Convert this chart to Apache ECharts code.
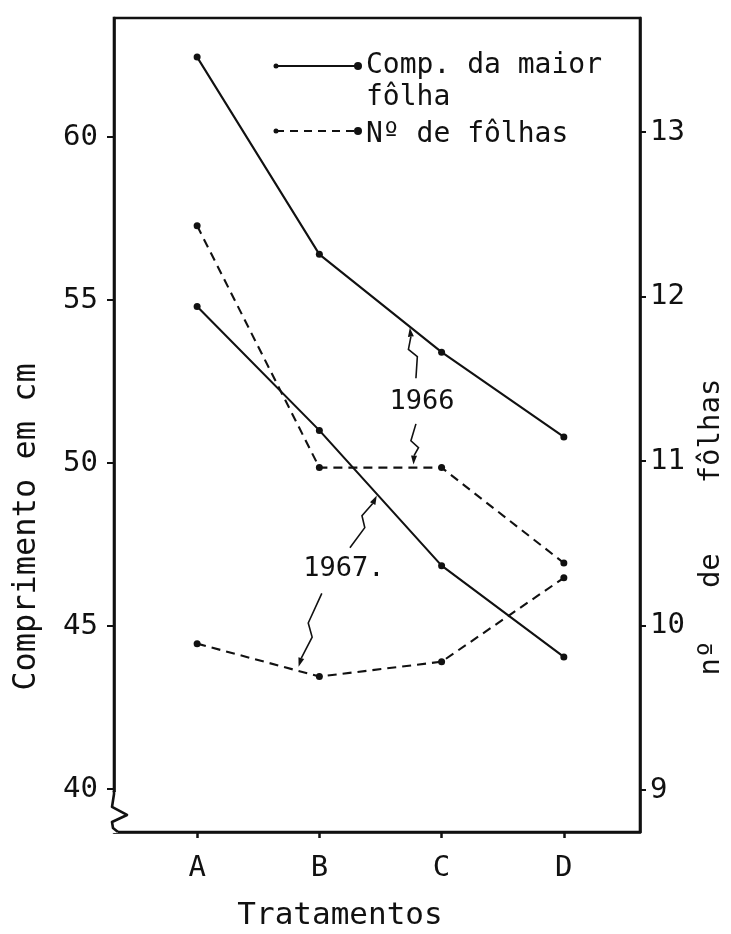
<!DOCTYPE html>
<html>
<head>
<meta charset="utf-8">
<script src="https://cdn.jsdelivr.net/npm/echarts@6/dist/echarts.min.js"></script>
<style>
  html, body { margin: 0; padding: 0; background: #fff; }
  #chart { width: 731px; height: 934px; }
</style>
</head>
<body>
<div id="chart"></div>
<script>
// tratamentos
const categories = ['A', 'B', 'C', 'D']
// comprimento da maior fôlha (cm), eixo esquerdo
const comp1966 = [62.45, 56.4, 53.4, 50.8]
const comp1967 = [54.8, 51.0, 46.85, 44.05]
// nº de fôlhas, eixo direito
const folhas1966 = [12.43, 10.96, 10.96, 10.38]
const folhas1967 = [9.89, 9.69, 9.78, 10.29]
// tick labels
const leftTicks = [40, 45, 50, 55, 60]
const rightTicks = [9, 10, 11, 12, 13]

const INK = '#111'
const MONO = '"DejaVu Sans Mono", monospace'

const chart = echarts.init(document.getElementById('chart'), null, { renderer: 'canvas' })

const pts = arr => arr.map((v, i) => [i, v])

function lineSeries(name, data, yIdx, dashed) {
  return {
    name: name,
    type: 'line',
    yAxisIndex: yIdx,
    data: pts(data),
    symbol: 'circle',
    symbolSize: 7,
    itemStyle: { color: INK },
    lineStyle: { color: INK, width: 2.1, type: dashed ? [9, 6] : 'solid' },
    animation: false,
    z: 3
  }
}

chart.setOption({
  backgroundColor: '#fff',
  animation: false,
  grid: {
    left: 114, right: 91, top: 18, bottom: 102,
    show: true, borderColor: INK, borderWidth: 2.6
  },
  xAxis: {
    type: 'value',
    min: -0.68,
    max: 3.623,
    splitLine: { show: false },
    axisLine: { onZero: false, lineStyle: { color: INK, width: 2.6 } },
    axisTick: { customValues: [0, 1, 2, 3], length: 6, lineStyle: { color: INK, width: 2.5 } },
    axisLabel: {
      customValues: [0, 1, 2, 3],
      formatter: v => categories[Math.round(v)],
      color: INK, fontFamily: MONO, fontSize: 29, margin: 22
    }
  },
  yAxis: [{
    type: 'value',
    position: 'left',
    min: 38.68,
    max: 63.65,
    splitLine: { show: false },
    axisLine: { show: true, onZero: false, lineStyle: { color: INK, width: 2.6 } },
    axisTick: { show: true, customValues: leftTicks, length: 7, lineStyle: { color: INK, width: 2 } },
    axisLabel: { customValues: leftTicks, color: INK, fontFamily: MONO, fontSize: 29, margin: 16 }
  }, {
    type: 'value',
    position: 'right',
    min: 8.745,
    max: 13.693,
    splitLine: { show: false },
    axisLine: { show: true, onZero: false, lineStyle: { color: INK, width: 2.6 } },
    axisTick: { show: true, customValues: rightTicks, length: 6, lineStyle: { color: INK, width: 2 } },
    axisLabel: { customValues: rightTicks, color: INK, fontFamily: MONO, fontSize: 29, margin: 10 }
  }],
  series: [
    lineSeries('Comp. 1966', comp1966, 0, false),
    lineSeries('Nº 1966', folhas1966, 1, true),
    lineSeries('Comp. 1967', comp1967, 0, false),
    lineSeries('Nº 1967', folhas1967, 1, true)
  ]
})

// anotações em coordenadas de dados (eixo esquerdo)
const notes = [
  { text: '1966', at: [1.84, 51.87] },
  { text: '1967.', at: [1.2, 46.75] }
]
const arrows = [
  [[1.79, 52.6], [1.74, 54.15]],
  [[1.79, 51.2], [1.77, 49.95]],
  [[1.25, 47.4], [1.47, 49.0]],
  [[1.02, 46.0], [0.83, 43.75]]
]

const px = v => chart.convertToPixel({ xAxisIndex: 0, yAxisIndex: 0 }, v)

function zigArrow(S, E) {
  const dx = E[0] - S[0], dy = E[1] - S[1]
  const L = Math.hypot(dx, dy)
  const ux = dx / L, uy = dy / L, nx = -uy, ny = ux
  const A = [S[0] + dx * 0.42 + nx * 4, S[1] + dy * 0.42 + ny * 4]
  const B = [S[0] + dx * 0.58 - nx * 4, S[1] + dy * 0.58 - ny * 4]
  const base = [E[0] - ux * 9, E[1] - uy * 9]
  return [{
    type: 'polyline', z: 100,
    shape: { points: [S, A, B, base] },
    style: { stroke: INK, lineWidth: 1.6, fill: null }
  }, {
    type: 'polygon', z: 100,
    shape: { points: [E, [base[0] + nx * 3, base[1] + ny * 3], [base[0] - nx * 3, base[1] - ny * 3]] },
    style: { fill: INK }
  }]
}

const g = []
arrows.forEach(a => { g.push(...zigArrow(px(a[0]), px(a[1]))) })
notes.forEach(n => {
  const p = px(n.at)
  g.push({
    type: 'text', z: 100, x: p[0], y: p[1],
    style: { text: n.text, fill: INK, font: '27px ' + MONO, align: 'center', verticalAlign: 'middle' }
  })
})

// quebra do eixo esquerdo
const o = px([-0.68, 40])
g.push({
  type: 'rect', z: 99,
  shape: { x: o[0] - 4, y: o[1] + 3, width: 8, height: 41 },
  style: { fill: '#fff' }
})
g.push({
  type: 'polyline', z: 100,
  shape: { points: [[o[0], o[1] + 2], [o[0], o[1] + 5], [o[0] - 2, o[1] + 18], [o[0] + 13, o[1] + 26], [o[0] - 2, o[1] + 33], [o[0] - 1, o[1] + 39], [o[0] + 4, o[1] + 43]] },
  style: { stroke: INK, lineWidth: 2.6, fill: null, lineJoin: 'round' }
})

// legenda
function legendLine(y, dashed) {
  return [{
    type: 'line', z: 100,
    shape: { x1: 276, y1: y, x2: 358, y2: y },
    style: { stroke: INK, lineWidth: 2, lineDash: dashed ? [8, 6] : null }
  }, {
    type: 'circle', z: 100, shape: { cx: 276, cy: y, r: 2.5 }, style: { fill: INK }
  }, {
    type: 'circle', z: 100, shape: { cx: 358, cy: y, r: 4 }, style: { fill: INK }
  }]
}
g.push(...legendLine(66, false), ...legendLine(131, true))
const legendText = [['Comp. da maior', 66], ['fôlha', 98], ['Nº de fôlhas', 135]]
legendText.forEach(t => {
  g.push({
    type: 'text', z: 100, x: 366, y: t[1],
    style: { text: t[0], fill: INK, font: '28px ' + MONO, align: 'left', verticalAlign: 'middle' }
  })
})

// nomes dos eixos
g.push({
  type: 'text', z: 100, x: 27, y: 527, rotation: Math.PI / 2,
  style: { text: 'Comprimento em cm', fill: INK, font: '32px ' + MONO, align: 'center', verticalAlign: 'middle' }
})
g.push({
  type: 'text', z: 100, x: 711, y: 527, rotation: Math.PI / 2,
  style: { text: 'nº   de    fôlhas', fill: INK, font: '29px ' + MONO, align: 'center', verticalAlign: 'middle' }
})
g.push({
  type: 'text', z: 100, x: 340, y: 916,
  style: { text: 'Tratamentos', fill: INK, font: '31px ' + MONO, align: 'center', verticalAlign: 'middle' }
})

chart.setOption({ graphic: g })
</script>
</body>
</html>
